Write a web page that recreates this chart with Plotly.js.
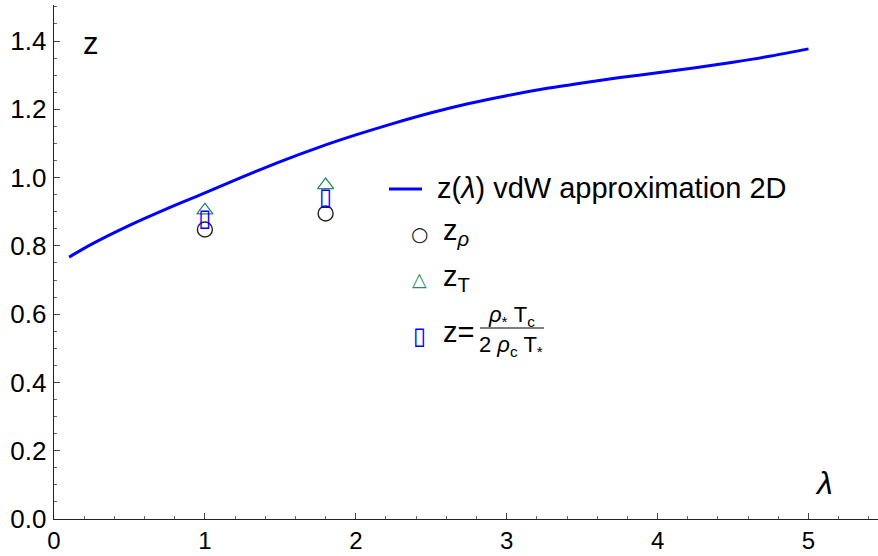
<!DOCTYPE html>
<html>
<head>
<meta charset="utf-8">
<script src="https://cdn.plot.ly/plotly-3.0.1.min.js"></script>
<style>html,body{margin:0;padding:0;background:#fff;}#chart{width:878px;height:556px;}</style>
</head>
<body>
<div id="chart"></div>
<script>
// curve z(lambda), vdW approximation 2D
const lambdaCurve = [0.1, 0.25, 0.5, 0.75, 1.0, 1.25, 1.5, 1.75, 2.0, 2.25, 2.5, 2.75, 3.0, 3.25, 3.5, 3.75, 4.0, 4.25, 4.5, 4.75, 5.0];
const zCurve      = [0.767, 0.805, 0.860, 0.909, 0.955, 1.002, 1.047, 1.088, 1.125, 1.159, 1.190, 1.217, 1.240, 1.260, 1.277, 1.293, 1.307, 1.322, 1.338, 1.356, 1.377];
// simulation points
const lambdaPts = [1.0, 1.8];
const zRho      = [0.848, 0.895];
const zT        = [0.904, 0.978];
const zRatio    = [0.876, 0.937];
// tick labels
const xTicks = [0, 1, 2, 3, 4, 5];
const yTicks = [0.0, 0.2, 0.4, 0.6, 0.8, 1.0, 1.2, 1.4];

const FONT = 'Liberation Sans, Arial, sans-serif';
const L = 54, R = 0, T = 5, B = 37, W = 878, H = 556;
const pw = W - L - R, ph = H - T - B;
const px = x => (x - L) / pw;
const py = y => (H - B - y) / ph;

const traces = [
  {x: lambdaCurve, y: zCurve, mode: 'lines', line: {color: '#0000ff', width: 3, shape: 'spline', smoothing: 0.8}, hoverinfo: 'skip'},
  {x: lambdaPts, y: zRho, mode: 'markers', marker: {symbol: 'circle-open', size: 15, color: '#222', line: {width: 1.4, color: '#222'}}},
  {x: lambdaPts, y: zT, mode: 'markers', marker: {symbol: 'triangle-up-open', size: 14, color: '#2a8a64', line: {width: 1.3, color: '#2a8a64'}}},
  {x: lambdaPts, y: zRatio, mode: 'text', text: lambdaPts.map(() => '▯'), textposition: 'middle center', textfont: {family: 'DejaVu Sans', size: 24, color: '#0000ff'}}
];

const ann = (x, y, text, opts) => Object.assign({xref: 'paper', yref: 'paper', x: px(x), y: py(y), text: text, showarrow: false, xanchor: 'left', yanchor: 'middle', font: {family: FONT, size: 29, color: '#000'}}, opts || {});

const layout = {
  width: W, height: H,
  margin: {l: L, r: R, t: T, b: B, pad: 0},
  paper_bgcolor: '#fff', plot_bgcolor: '#fff',
  showlegend: false,
  font: {family: FONT, color: '#000'},
  xaxis: {
    range: [0, pw / 150.9], showgrid: false, zeroline: false,
    showline: true, linecolor: '#222', linewidth: 1.3,
    ticks: 'inside', ticklen: 6, tickwidth: 1, tickcolor: '#444',
    tickvals: xTicks, ticktext: xTicks.map(String),
    tickfont: {family: FONT, size: 24, color: '#000'}, ticklabelstandoff: 0,
    minor: {dtick: 0.2, ticks: 'inside', ticklen: 3, tickwidth: 1, tickcolor: '#666', showgrid: false}
  },
  yaxis: {
    range: [0, ph / 341.4], showgrid: false, zeroline: false,
    showline: true, linecolor: '#222', linewidth: 1.3,
    ticks: 'inside', ticklen: 6, tickwidth: 1, tickcolor: '#444',
    tickvals: yTicks, ticktext: yTicks.map(v => v.toFixed(1)),
    tickfont: {family: FONT, size: 26, color: '#000'}, ticklabelstandoff: 1,
    minor: {dtick: 0.05, ticks: 'inside', ticklen: 3, tickwidth: 1, tickcolor: '#666', showgrid: false}
  },
  shapes: [
    {type: 'line', xref: 'paper', yref: 'paper', x0: px(389), x1: px(422), y0: py(189), y1: py(189), line: {color: '#0000ff', width: 3}},
    {type: 'line', xref: 'paper', yref: 'paper', x0: px(480), x1: px(544), y0: py(328), y1: py(328), line: {color: '#000', width: 1.2}}
  ],
  annotations: [
    ann(91, 44, 'z', {xanchor: 'center', font: {family: FONT, size: 31, color: '#000'}}),
    ann(824, 483, '<i>λ</i>', {xanchor: 'center', font: {family: FONT, size: 32, color: '#000'}}),
    ann(435, 188, 'z(<i>λ</i>) vdW approximation 2D'),
    ann(419, 234, '○', {xanchor: 'center', font: {family: 'DejaVu Sans', size: 20, color: '#222'}}),
    ann(441, 232, 'z<sub><i>ρ</i></sub>'),
    ann(419, 279, '△', {xanchor: 'center', font: {family: 'DejaVu Sans', size: 19, color: '#2a8a64'}}),
    ann(441, 278, 'z<sub>T</sub>'),
    ann(419, 336, '▯', {xanchor: 'center', font: {family: 'DejaVu Sans', size: 24, color: '#0000ff'}}),
    ann(441, 332, 'z='),
    ann(511, 316, '<i>ρ</i><sub>*</sub> T<sub>c</sub>', {xanchor: 'center', font: {family: FONT, size: 22, color: '#000'}}),
    ann(511, 346, '2 <i>ρ</i><sub>c</sub> T<sub>*</sub>', {xanchor: 'center', font: {family: FONT, size: 22, color: '#000'}})
  ]
};

Plotly.newPlot('chart', traces, layout, {staticPlot: true, displayModeBar: false});
</script>
</body>
</html>
